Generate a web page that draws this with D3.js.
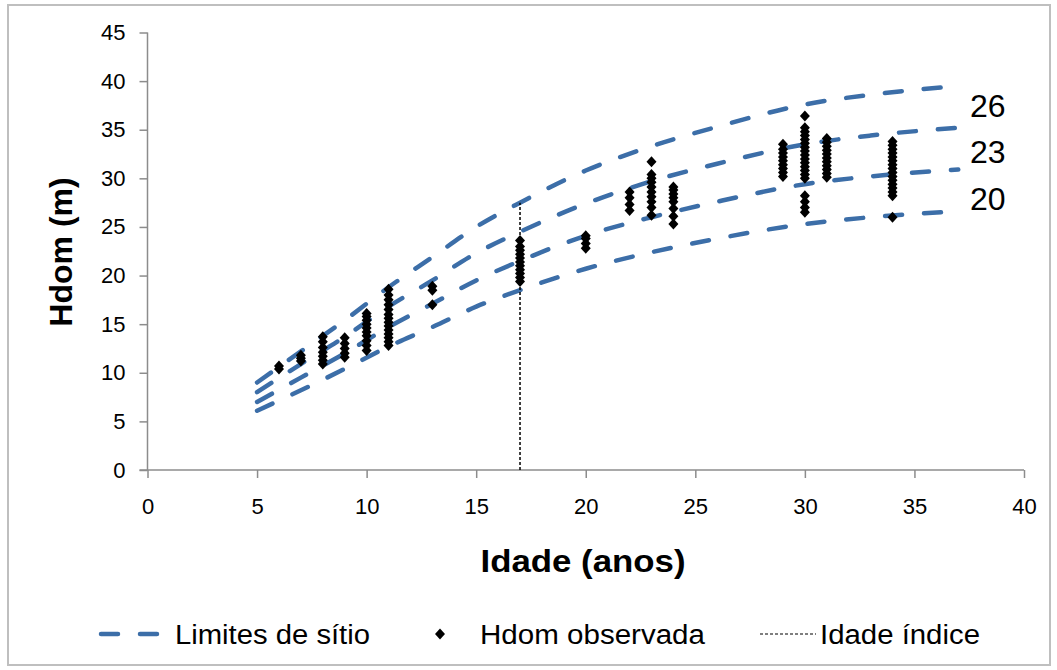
<!DOCTYPE html>
<html>
<head>
<meta charset="utf-8">
<script src="https://cdn.jsdelivr.net/npm/d3@7"></script>
<style>
  body { margin: 0; background: #fff; }
  text { font-family: "Liberation Sans", Arial, sans-serif; }
</style>
</head>
<body>
<div id="wrapper"></div>
<script>
// idades usadas para as curvas de sitio
const curveAges = [5, 7, 9, 11, 13, 15, 17, 20, 23, 26, 30, 33, 37];
// limites de sitio
const limit1 = [9.0, 12.2, 15.4, 18.8, 21.9, 25.0, 27.5, 30.8, 33.3, 35.3, 37.6, 38.6, 39.5];
const limit2 = [8.0, 10.9, 13.7, 16.8, 19.5, 22.3, 24.5, 27.4, 29.7, 31.5, 33.5, 34.4, 35.2];
const limit3 = [7.0, 9.5, 12.0, 14.7, 17.1, 19.5, 21.5, 24.1, 26.0, 27.6, 29.4, 30.2, 30.9];
const limit4 = [6.1, 8.2, 10.4, 12.7, 14.7, 16.8, 18.5, 20.7, 22.4, 23.8, 25.3, 26.0, 26.6];
const siteLabels = ["26", "23", "20"];

// Hdom observada por idade
const obsAges = [6, 7, 8, 9, 10, 11, 13, 17, 20, 22, 23, 24, 29, 30, 31, 34];
const obsHeights = [
    [10.4, 10.7],
    [11.2, 11.5, 11.8],
    [10.9, 11.3, 11.7, 12.1, 12.6, 13.2, 13.7],
    [11.6, 12.0, 12.5, 13.0, 13.6],
    [12.3, 12.8, 13.3, 13.8, 14.2, 14.6, 15.0, 15.4, 15.8, 16.1],
    [12.8, 13.2, 13.6, 14.0, 14.4, 14.8, 15.2, 15.6, 16.0, 16.5, 17.0, 17.5, 18.0, 18.6],
    [17.0, 18.5, 18.9],
    [19.4, 19.8, 20.2, 20.6, 21.0, 21.4, 21.8, 22.2, 22.6, 23.0, 23.6],
    [22.8, 23.3, 23.8, 24.1],
    [26.7, 27.3, 28.0, 28.6],
    [26.2, 27.0, 27.6, 28.1, 28.6, 29.1, 29.6, 30.0, 30.4, 31.7],
    [25.3, 26.1, 26.9, 27.6, 28.0, 28.4, 28.8, 29.1],
    [30.2, 30.6, 31.0, 31.4, 31.8, 32.2, 32.6, 33.0, 33.5],
    [26.5, 27.0, 27.6, 28.2, 30.0, 30.4, 30.8, 31.2, 31.6, 32.0, 32.4, 32.8, 33.2, 33.6, 34.0, 34.4, 34.8, 35.2, 36.4],
    [30.1, 30.5, 30.9, 31.3, 31.7, 32.1, 32.5, 32.9, 33.3, 33.7, 34.1],
    [26.0, 28.2, 28.6, 29.0, 29.4, 29.8, 30.2, 30.6, 31.0, 31.4, 31.8, 32.2, 32.6, 33.0, 33.4, 33.8]
];

const indexAge = 17;
const xTicks = [0, 5, 10, 15, 20, 25, 30, 35, 40];
const yTicks = [0, 5, 10, 15, 20, 25, 30, 35, 40, 45];
const legendLabels = ["Limites de sítio", "Hdom observada", "Idade índice"];

const width = 1057, height = 670;
const blue = "#3c6ea8";
const axisColor = "#8c8c8c";

const svg = d3.select("#wrapper").append("svg")
    .attr("width", width)
    .attr("height", height);

svg.append("rect")
    .attr("x", 8).attr("y", 5)
    .attr("width", 1042).attr("height", 660)
    .attr("fill", "#fff")
    .attr("stroke", "#bfbfbf")
    .attr("stroke-width", 2);

const xScale = d3.scaleLinear().domain([0, 40]).range([147.5, 1024]);
const yScale = d3.scaleLinear().domain([0, 45]).range([470, 32.5]);

// eixos
const yAxis = d3.axisLeft(yScale).tickValues(yTicks).tickSize(8).tickPadding(14);
const xAxis = d3.axisBottom(xScale).tickValues(xTicks).tickSize(8).tickPadding(20);

const gy = svg.append("g").attr("transform", `translate(${xScale(0)},0)`).call(yAxis);
const gx = svg.append("g").attr("transform", `translate(0,${yScale(0)})`).call(xAxis);

[gx, gy].forEach(g => {
    g.select(".domain").attr("stroke", axisColor).attr("stroke-width", 1.5);
    g.selectAll(".tick line").attr("stroke", axisColor).attr("stroke-width", 1.5);
    g.selectAll(".tick text")
        .attr("fill", "#000")
        .style("font-size", "22px")
        .style("font-family", "'Liberation Sans', Arial, sans-serif");
});
gy.select(".domain").attr("d", `M0,${yScale(45)}V${yScale(0)}`);
gx.select(".domain").attr("d", `M${xScale(0) - 8},0H${xScale(40)}`);

// curvas de sitio
const line = d3.line()
    .x((d, i) => xScale(curveAges[i]))
    .y(d => yScale(d))
    .curve(d3.curveMonotoneX);

[limit1, limit2, limit3, limit4].forEach(s => {
    svg.append("path")
        .attr("d", line(s))
        .attr("fill", "none")
        .attr("stroke", blue)
        .attr("stroke-width", 4.5)
        .attr("stroke-linecap", "round")
        .attr("stroke-dasharray", "17,22");
});

// linha da idade indice
const indexTop = limit1[curveAges.indexOf(indexAge)];
svg.append("line")
    .attr("x1", xScale(indexAge)).attr("x2", xScale(indexAge))
    .attr("y1", yScale(0)).attr("y2", yScale(indexTop))
    .attr("stroke", "#000")
    .attr("stroke-width", 1.5)
    .attr("stroke-dasharray", "3,2");

// pontos observados
const diamond = "M0,-5.5L5,0L0,5.5L-5,0Z";
const obs = [];
obsAges.forEach((a, i) => obsHeights[i].forEach(h => obs.push({ a, h })));
svg.append("g").selectAll("path")
    .data(obs)
    .join("path")
    .attr("d", diamond)
    .attr("transform", d => `translate(${xScale(d.a)},${yScale(d.h)})`)
    .attr("fill", "#000");

// rotulos dos sitios
const labelY = [37.5, 32.8, 27.9];
siteLabels.forEach((t, i) => {
    svg.append("text")
        .attr("x", 970)
        .attr("y", yScale(labelY[i]))
        .attr("dy", "0.36em")
        .style("font-size", "32px")
        .text(t);
});

// titulos
svg.append("text")
    .attr("x", 583).attr("y", 572)
    .attr("text-anchor", "middle")
    .attr("textLength", 205)
    .attr("lengthAdjust", "spacingAndGlyphs")
    .style("font-size", "32px")
    .style("font-weight", "bold")
    .text("Idade (anos)");

svg.append("text")
    .attr("transform", "translate(72,252) rotate(-90)")
    .attr("text-anchor", "middle")
    .style("font-size", "32px")
    .style("font-weight", "bold")
    .text("Hdom (m)");

// legenda
const ly = 634;
const legend = svg.append("g");
legend.append("line")
    .attr("x1", 101).attr("x2", 161).attr("y1", ly).attr("y2", ly)
    .attr("stroke", blue).attr("stroke-width", 4.5)
    .attr("stroke-linecap", "round").attr("stroke-dasharray", "17,22");
legend.append("path")
    .attr("d", diamond)
    .attr("transform", `translate(440,${ly})`)
    .attr("fill", "#000");
legend.append("line")
    .attr("x1", 760).attr("x2", 816).attr("y1", ly).attr("y2", ly)
    .attr("stroke", "#000").attr("stroke-width", 1.2)
    .attr("stroke-dasharray", "3,2");

const legendX = [175, 480, 820];
const legendW = [195, 225, 160];
legendLabels.forEach((t, i) => {
    legend.append("text")
        .attr("x", legendX[i]).attr("y", ly + 10)
        .attr("textLength", legendW[i])
        .attr("lengthAdjust", "spacingAndGlyphs")
        .style("font-size", "27px")
        .text(t);
});
</script>
</body>
</html>
